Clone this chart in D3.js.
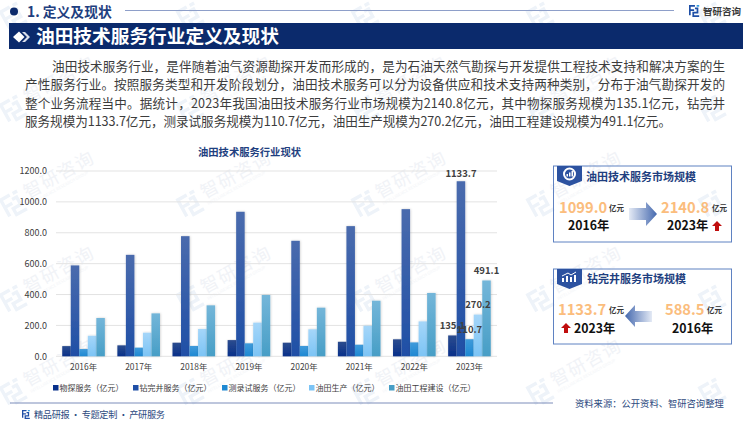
<!DOCTYPE html>
<html>
<head>
<meta charset="utf-8">
<script src="https://cdn.jsdelivr.net/npm/d3@7"></script>
<style>
html, body { margin: 0; padding: 0; background: #fff; }
svg { display: block; }
text { font-family: "Noto Sans CJK SC", "Noto Sans", sans-serif; }
</style>
</head>
<body>
<div id="chart"></div>
<script>
var width = 750;
var height = 421;

// values
var years = ["2016年", "2017年", "2018年", "2019年", "2020年", "2021年", "2022年", "2023年"];
var seriesNames = ["物探服务（亿元）", "钻完井服务（亿元）", "测录试服务（亿元）", "油田生产（亿元）", "油田工程建设（亿元）"];
var wutan = [66, 71, 88, 105, 88, 94, 110, 135.1];
var zuanwanjing = [588.5, 657, 778, 936, 748, 843, 953, 1133.7];
var celushi = [47, 56, 67, 84, 67, 75, 90, 110.7];
var shengchan = [133, 153, 177, 218, 175, 198, 226, 270.2];
var gongcheng = [248, 278, 330, 397, 315, 360, 410, 491.1];
var yTicks = [0, 200, 400, 600, 800, 1000, 1200];

var bodyLines = [
    "油田技术服务行业，是伴随着油气资源勘探开发而形成的，是为石油天然气勘探与开发提供工程技术支持和解决方案的生",
    "产性服务行业。按照服务类型和开发阶段划分，油田技术服务可以分为设备供应和技术支持两种类别，分布于油气勘探开发的",
    "整个业务流程当中。据统计，2023年我国油田技术服务行业市场规模为2140.8亿元，其中物探服务规模为135.1亿元，钻完井",
    "服务规模为1133.7亿元，测录试服务规模为110.7亿元，油田生产规模为270.2亿元，油田工程建设规模为491.1亿元。"
];

var allSeries = [wutan, zuanwanjing, celushi, shengchan, gongcheng];
var topColors = ["#2c4c8e", "#4a6bad", "#3f9bdb", "#a5d6f9", "#74b6d9"];
var bottomColors = ["#08308a", "#1f4fa6", "#1e88d2", "#7cc4f5", "#479ec6"];
var legendX = [53, 133, 222, 309, 389];

var svg = d3.select("#chart").append("svg")
    .attr("width", width)
    .attr("height", height);

var defs = svg.append("defs");

seriesNames.forEach(function(name, i) {
    var g = defs.append("linearGradient")
        .attr("id", "bar" + i)
        .attr("x1", 0).attr("y1", 0).attr("x2", 0).attr("y2", 1);
    g.append("stop").attr("offset", "0%").attr("stop-color", topColors[i]);
    g.append("stop").attr("offset", "100%").attr("stop-color", bottomColors[i]);
});

var shadow = defs.append("filter").attr("id", "barShadow")
    .attr("x", "-30%").attr("y", "-5%").attr("width", "160%").attr("height", "110%");
shadow.append("feDropShadow")
    .attr("dx", 0.5).attr("dy", 0).attr("stdDeviation", 0.8)
    .attr("flood-color", "#000").attr("flood-opacity", 0.2);

var arrowRight = defs.append("linearGradient").attr("id", "arrowRight");
arrowRight.append("stop").attr("offset", "0%").attr("stop-color", "#e4eaf5");
arrowRight.append("stop").attr("offset", "100%").attr("stop-color", "#4468ae");
var arrowLeft = defs.append("linearGradient").attr("id", "arrowLeft");
arrowLeft.append("stop").attr("offset", "0%").attr("stop-color", "#4468ae");
arrowLeft.append("stop").attr("offset", "100%").attr("stop-color", "#e4eaf5");

function logo(parent, x, y, s, c1, c2) {
    var g = parent.append("g").attr("transform", "translate(" + x + "," + y + ") scale(" + s + ")");
    g.append("path").attr("d", "M0 0H7V2H2V5H6V7H2V12H0Z").attr("fill", c1);
    g.append("path").attr("d", "M4 8H9V5H7V3H11V10H6V12H12V14H4Z").attr("fill", c1);
    g.append("rect").attr("x", 9).attr("y", 0).attr("width", 3).attr("height", 2).attr("fill", c2);
}

// stretch a text to a known right end, textLength does not hold on mixed runs
function fitTo(sel, end) {
    var node = sel.node();
    var n = node.textContent.length;
    var start = +sel.attr("x");
    var gap = (end - start - node.getComputedTextLength()) / (n - 1);
    sel.attr("letter-spacing", gap);
}

// watermark, the words only where they stay inside the page
var wmX = [13, 190, 365, 540, 712];
var wmY = [17, 110, 205, 300, 393];
var marks = svg.append("g");
wmY.forEach(function(y, r) {
    wmX.forEach(function(x, c) {
        var g = marks.append("g").attr("transform", "translate(" + x + "," + y + ") rotate(-29)");
        logo(g, -10, -12, 1.7, "#eef3f9", "#eef3f9");
        if (r == 0 || c == wmX.length - 1) return;
        g.append("text").attr("x", 16).attr("y", 2)
            .attr("font-size", 18).attr("letter-spacing", 1.5)
            .attr("fill", "#f1f3f7").text("智研咨询");
        g.append("text").attr("x", 16).attr("y", 9)
            .attr("font-size", 4.2).attr("fill", "#f3f5f8")
            .text("INTELLIGENCE RESEARCH GROUP");
    });
});

// page header
svg.append("circle").attr("cx", 14).attr("cy", 11.5).attr("r", 4).attr("fill", "#0b2a6c");
svg.append("text").attr("x", 27).attr("y", 16.5)
    .attr("font-size", 13.8).attr("font-weight", 700).attr("fill", "#1f3f80")
    .text("1. 定义及现状");
svg.append("line").attr("x1", 125).attr("x2", 674).attr("y1", 10.5).attr("y2", 10.5)
    .attr("stroke", "#8e9fc9").attr("stroke-width", 1);
logo(svg, 689, 5, 0.85, "#1f4fa6", "#2e9be0");
svg.append("text").attr("x", 703).attr("y", 14.5)
    .attr("font-size", 9.5).attr("font-weight", 700).attr("fill", "#3a3a3a")
    .text("智研咨询");

svg.append("rect").attr("x", 9).attr("y", 23).attr("width", 734).attr("height", 26).attr("fill", "#0b2a6c");
svg.append("path").attr("d", "M13 37L19 31.5L24.5 37L19 42.5Z").attr("fill", "#fff");
svg.append("path").attr("d", "M22 32L25 32L30 37L25 42L22 42L27 37Z").attr("fill", "#d9dfeb");
svg.append("text").attr("x", 36).attr("y", 43)
    .attr("font-size", 18.7).attr("font-weight", 700).attr("fill", "#fff")
    .text("油田技术服务行业定义及现状");

// intro paragraph
var lineX = [52, 25, 25, 25];
var lineEnd = [725, 725, 725, 671];
var lineY = [70.5, 89, 107.5, 126];
bodyLines.forEach(function(txt, i) {
    var t = svg.append("text")
        .attr("x", lineX[i])
        .attr("y", lineY[i])
        .attr("font-size", 12.6)
        .attr("fill", "#3c3c3c")
        .text(txt);
    fitTo(t, lineEnd[i]);
});

// chart
svg.append("text").attr("x", 249.5).attr("y", 156).attr("text-anchor", "middle")
    .attr("font-size", 10.3).attr("font-weight", 700).attr("fill", "#1f3f80")
    .text("油田技术服务行业现状");

var x0 = d3.scaleBand().domain(years).range([56, 497]).paddingInner(0.227).paddingOuter(0.113);
var x1 = d3.scaleBand().domain(d3.range(seriesNames.length)).range([0, x0.bandwidth()]);
var y = d3.scaleLinear().domain([0, 1200]).range([356.3, 171]);

var yAxis = d3.axisLeft(y).tickValues(yTicks).tickSize(0).tickPadding(9)
    .tickFormat(d3.format(".1f"));
var yG = svg.append("g").attr("transform", "translate(56,0)").call(yAxis);
yG.select(".domain").remove();
yG.selectAll("text").attr("font-size", 9).attr("fill", "#404040")
    .style("font-family", '"Noto Sans CJK SC"');

svg.append("g").selectAll("line").data(yTicks).enter().append("line")
    .attr("x1", 56).attr("x2", 497)
    .attr("y1", function(d) { return y(d); })
    .attr("y2", function(d) { return y(d); })
    .attr("stroke", "#e3e3e3").attr("stroke-width", 1);

var xAxis = d3.axisBottom(x0).tickSize(0).tickPadding(8);
var xG = svg.append("g").attr("transform", "translate(0,356.3)").call(xAxis);
xG.select(".domain").remove();
xG.selectAll("text").attr("font-size", 8.4).attr("fill", "#404040")
    .style("font-family", '"Noto Sans CJK SC"');

allSeries.forEach(function(values, s) {
    svg.append("g").selectAll("rect").data(values).enter().append("rect")
        .attr("x", function(d, i) { return x0(years[i]) + x1(s); })
        .attr("y", function(d) { return y(d); })
        .attr("width", x1.bandwidth())
        .attr("height", function(d) { return y(0) - y(d); })
        .attr("fill", "url(#bar" + s + ")")
        .attr("filter", "url(#barShadow)");
});

// only the last year carries labels
var last = years.length - 1;
allSeries.forEach(function(values, s) {
    svg.append("text")
        .attr("x", x0(years[last]) + x1(s) + x1.bandwidth() / 2)
        .attr("y", y(values[last]) - (s == 1 ? 4 : 6.5))
        .attr("text-anchor", "middle")
        .attr("font-size", 9.5).attr("font-weight", 700).attr("fill", "#404040")
        .style("font-family", '"Noto Sans CJK SC"')
        .text(values[last]);
});

// legend
seriesNames.forEach(function(name, i) {
    svg.append("rect").attr("x", legendX[i]).attr("y", 385).attr("width", 5.5).attr("height", 5.5)
        .attr("fill", bottomColors[i]);
    svg.append("text").attr("x", legendX[i] + 6.5).attr("y", 391)
        .attr("font-size", 8).attr("fill", "#404040").text(name);
});

// footer
svg.append("line").attr("x1", 10).attr("x2", 553).attr("y1", 403).attr("y2", 403)
    .attr("stroke", "#7c8dba").attr("stroke-width", 1);
logo(svg, 22, 410, 0.65, "#1f4fa6", "#2e9be0");
var slogan = svg.append("text").attr("x", 34).attr("y", 418)
    .attr("font-size", 9.2).attr("fill", "#2d4a80")
    .text("精品研报 · 专题定制 · 产研服务");
fitTo(slogan, 165);
svg.append("text").attr("x", 575).attr("y", 406.5)
    .attr("font-size", 9.3).attr("fill", "#2d4a80")
    .text("资料来源：公开资料、智研咨询整理");

// side cards
function tab(top, icon) {
    svg.append("path")
        .attr("d", "M557 " + top + "H582V" + (top + 15) + "L569.5 " + (top + 20) + "L557 " + (top + 15) + "Z")
        .attr("fill", "#2c52a0");
    if (icon == "ring") {
        svg.append("circle").attr("cx", 569.5).attr("cy", top + 8).attr("r", 5.5)
            .attr("fill", "none").attr("stroke", "#fff").attr("stroke-width", 2);
        svg.append("path").attr("d", "M566.5 " + (top + 10.5) + "V" + (top + 8) + "H568V" + (top + 10.5) + "ZM569 " + (top + 10.5) + "V" + (top + 6.5) + "H570.5V" + (top + 10.5) + "ZM571.5 " + (top + 10.5) + "V" + (top + 5) + "H573V" + (top + 10.5) + "Z").attr("fill", "#fff");
    } else {
        svg.append("path").attr("d", "M562 " + (top + 13) + "V" + (top + 9) + "H564V" + (top + 13) + "ZM566 " + (top + 13) + "V" + (top + 7) + "H568V" + (top + 13) + "ZM570 " + (top + 13) + "V" + (top + 8) + "H572V" + (top + 13) + "ZM574 " + (top + 13) + "V" + (top + 6) + "H576V" + (top + 13) + "Z").attr("fill", "#fff");
        svg.append("path").attr("d", "M562 " + (top + 7) + "L568 " + (top + 4) + "L571 " + (top + 6) + "L576 " + (top + 3)).attr("fill", "none").attr("stroke", "#fff");
    }
}

function redArrow(x, y0) {
    svg.append("path")
        .attr("d", "M" + (x + 5) + " " + y0 + "L" + (x + 10) + " " + (y0 + 5) + "H" + (x + 7) + "V" + (y0 + 10) + "H" + (x + 3) + "V" + (y0 + 5) + "H" + x + "Z")
        .attr("fill", "#c00d0d");
}

function cardText(x, y0, size, weight, color, txt) {
    svg.append("text").attr("x", x).attr("y", y0)
        .attr("font-size", size).attr("font-weight", weight).attr("fill", color).text(txt);
}

var orange = "#fbbd7d";

svg.append("rect").attr("x", 553.5).attr("y", 166).attr("width", 178).attr("height", 76)
    .attr("fill", "none").attr("stroke", "#5f82c2").attr("stroke-width", 1);
tab(166, "ring");
cardText(586, 181, 11, 700, "#1f3f80", "油田技术服务市场规模");
cardText(559, 212.5, 14.7, 700, orange, "1099.0");
cardText(609, 211, 7.5, 700, "#333", "亿元");
cardText(568, 230, 12.3, 700, "#111", "2016年");
svg.append("path").attr("d", "M629 208H646V202L657 214L646 226V220H629Z").attr("fill", "url(#arrowRight)");
cardText(661, 212.5, 14.7, 700, orange, "2140.8");
cardText(712, 211, 7.5, 700, "#333", "亿元");
cardText(667, 230, 12.3, 700, "#111", "2023年");
redArrow(712, 221);

svg.append("rect").attr("x", 553.5).attr("y", 269).attr("width", 178).attr("height", 75)
    .attr("fill", "none").attr("stroke", "#5f82c2").attr("stroke-width", 1);
tab(269, "bars");
cardText(587, 283, 11, 700, "#1f3f80", "钻完井服务市场规模");
cardText(558, 314.5, 14.7, 700, orange, "1133.7");
cardText(609, 313, 7.5, 700, "#333", "亿元");
cardText(574, 333, 12.3, 700, "#111", "2023年");
redArrow(561, 323);
svg.append("path").attr("d", "M652 311H635V305L625 316L635 327V322H652Z").attr("fill", "url(#arrowLeft)");
cardText(665, 314.5, 14.7, 700, orange, "588.5");
cardText(707, 313, 7.5, 700, "#333", "亿元");
cardText(672, 333, 12.3, 700, "#111", "2016年");
</script>
</body>
</html>
